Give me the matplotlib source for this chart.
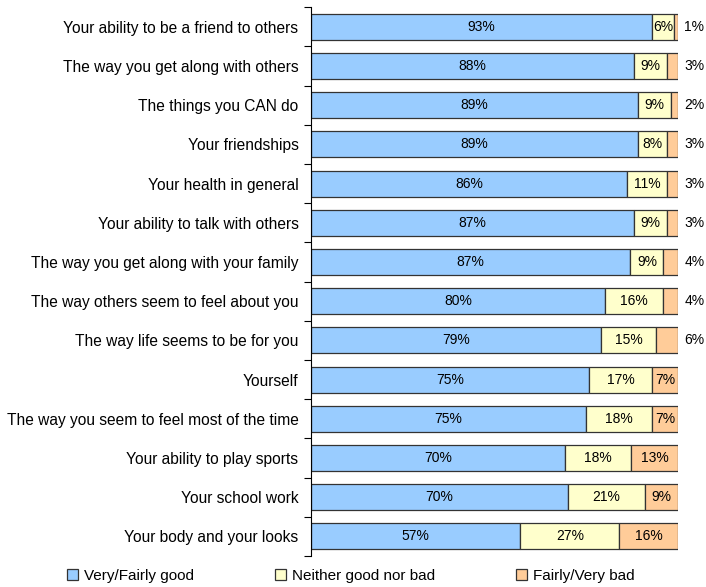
import matplotlib.pyplot as plt
import numpy as np

plt.rcParams['font.family'] = ['Liberation Sans', 'DejaVu Sans']

categories = [
    "Your ability to be a friend to others",
    "The way you get along with others",
    "The things you CAN do",
    "Your friendships",
    "Your health in general",
    "Your ability to talk with others",
    "The way you get along with your family",
    "The way others seem to feel about you",
    "The way life seems to be for you",
    "Yourself",
    "The way you seem to feel most of the time",
    "Your ability to play sports",
    "Your school work",
    "Your body and your looks",
]
good = [93, 88, 89, 89, 86, 87, 87, 80, 79, 75, 75, 70, 70, 57]
neither = [6, 9, 9, 8, 11, 9, 9, 16, 15, 17, 18, 18, 21, 27]
bad = [1, 3, 2, 3, 3, 3, 4, 4, 6, 7, 7, 13, 9, 16]

series = [good, neither, bad]
names = ["Very/Fairly good", "Neither good nor bad", "Fairly/Very bad"]
colors = ["#99CCFF", "#FFFFCC", "#FFCC99"]

data = np.array(series, dtype=float)
scaled = data / data.sum(axis=0) * 100

fig = plt.figure(figsize=(7.06, 5.87), dpi=100)
ax = fig.add_axes([0.4405, 0.0528, 0.52, 0.935])

n = len(categories)
y = np.arange(n)
left = np.zeros(n)
for k in range(3):
    ax.barh(y, scaled[k], left=left, height=0.66, color=colors[k],
            edgecolor='#333333', linewidth=0.9, label=names[k])
    for i in range(n):
        v = data[k, i]
        txt = "%d%%" % v
        if k == 2 and v < 7:
            ax.text(104.4, y[i], txt, ha='center', va='center', fontsize=10)
        else:
            ax.text(left[i] + scaled[k, i] / 2, y[i], txt, ha='center',
                    va='center', fontsize=10)
    left += scaled[k]

ax.set_xlim(0, 100)
ax.set_ylim(n - 0.5, -0.5)
ax.set_yticks(y)
ax.set_yticklabels(categories, fontsize=11.2)
ax.tick_params(axis='y', which='major', length=0, pad=9)
ax.set_yticks(np.arange(-0.5, n, 1), minor=True)
ax.tick_params(axis='y', which='minor', length=5, width=0.8)
ax.set_xticks([])
for s in ['top', 'right', 'bottom']:
    ax.spines[s].set_visible(False)
ax.spines['left'].set_linewidth(0.8)

fig.legend(loc='center', bbox_to_anchor=(0.497, 1 - 576 / 587), ncol=3, frameon=False,
           fontsize=11, handlelength=0.7, handleheight=0.7, handletextpad=0.4,
           columnspacing=5.3)

fig.savefig('out.png', dpi=100)
